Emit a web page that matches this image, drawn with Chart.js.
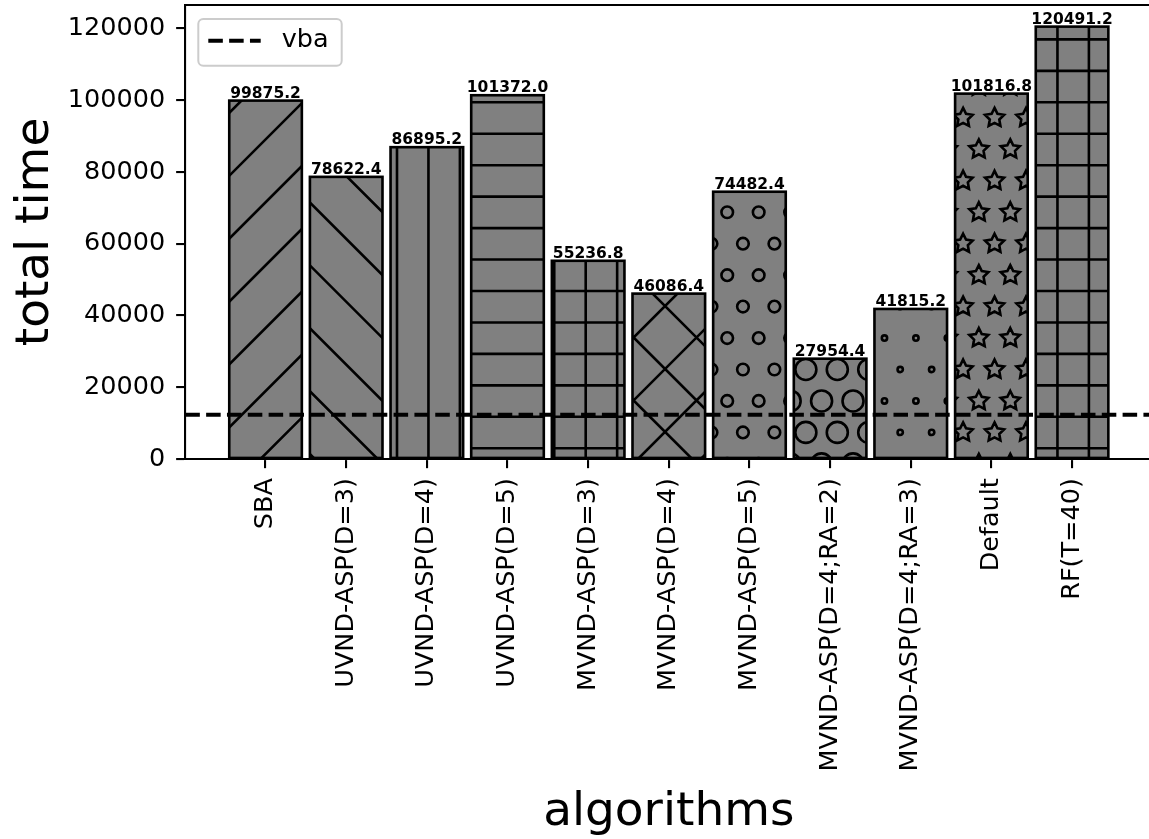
<!DOCTYPE html>
<html><head><meta charset="utf-8">
<script src="https://cdn.jsdelivr.net/npm/chart.js@4.4.1/dist/chart.umd.min.js"></script>
<style>
html,body{margin:0;padding:0;background:#fff;overflow:hidden;}
#wrap{position:absolute;left:0;top:0;width:1160px;height:839px;}
</style></head><body>
<div id="wrap"><canvas id="c"></canvas></div>
<script>
// ---- data ----
const algorithms = ['SBA','UVND-ASP(D=3)','UVND-ASP(D=4)','UVND-ASP(D=5)','MVND-ASP(D=3)','MVND-ASP(D=4)','MVND-ASP(D=5)','MVND-ASP(D=4;RA=2)','MVND-ASP(D=4;RA=3)','Default','RF(T=40)'];
const totalTime = [99875.2,78622.4,86895.2,101372.0,55236.8,46086.4,74482.4,27954.4,41815.2,101816.8,120491.2];
const hatches = ['/','\\','|','-','+','x','o','O','.','*','+'];
const vbaValue = 12350;
const yTickValues = [0,20000,40000,60000,80000,100000,120000];
const legendLabel = 'vba';

// ---- style ----
const FONT = 'DejaVu Sans';
const PT = 2.62;               // px per point
const BAR_W = 0.9;
const HATCH = {step:31.45, lineX0:397, lineY0:102.3, up0:405, down0:-107.4, shapeX0:397, shapeY0:243.7, lw:2.62};

Chart.defaults.font.family = FONT;
Chart.defaults.color = '#000';

// matplotlib-like limits
const xLo = -BAR_W/2, xHi = algorithms.length-1+BAR_W/2, xm = 0.05*(xHi-xLo);
const yMax = Math.max(...totalTime)*1.05;

function drawShapes(ctx, kind, L, T, R, B){
  const S = HATCH.step;
  const size = kind==='o'?0.2:kind==='O'?0.35:kind==='.'?0.1:1/3;
  const r = size*S - 0.5;
  const r0 = Math.floor((T - r - HATCH.shapeY0)/S) - 1;
  ctx.beginPath();
  for (let row=r0; ; row++){
    const y = HATCH.shapeY0 + row*S;
    if (y - r > B + 2) break;
    const off = (((row%2)+2)%2===0) ? 0 : 0.5;
    const k0 = Math.floor((L - r - HATCH.shapeX0)/S) - 1;
    for (let k=k0; ; k++){
      const x = HATCH.shapeX0 + (k+off)*S;
      if (x - r > R + 2) break;
      if (kind==='*'){
        for (let j=0;j<=10;j++){
          const a = -Math.PI/2 + j*Math.PI/5;
          const rr = (j%2===0)? r : r*0.5;
          const px = x + rr*Math.cos(a), py = y + rr*Math.sin(a);
          if (j===0) ctx.moveTo(px,py); else ctx.lineTo(px,py);
        }
        ctx.closePath();
      } else {
        ctx.moveTo(x+r,y); ctx.arc(x,y,r,0,Math.PI*2);
      }
    }
  }
  ctx.stroke();
}

function drawHatch(ctx, h, L, T, R, B){
  const S = HATCH.step;
  ctx.strokeStyle = '#000';
  ctx.lineWidth = HATCH.lw;
  ctx.lineJoin = 'miter';
  ctx.beginPath();
  if (h==='-'||h==='+'){
    for (let k=Math.floor((T-HATCH.lineY0)/S)-1; ; k++){
      const y = HATCH.lineY0 + k*S; if (y > B+3) break;
      ctx.moveTo(L-3,y); ctx.lineTo(R+3,y);
    }
  }
  if (h==='|'||h==='+'){
    for (let k=Math.floor((L-HATCH.lineX0)/S)-1; ; k++){
      const x = HATCH.lineX0 + k*S; if (x > R+3) break;
      ctx.moveTo(x,T-3); ctx.lineTo(x,B+3);
    }
  }
  if (h==='/'||h==='x'){
    for (let k=Math.floor((L+T-HATCH.up0)/(2*S))-1; ; k++){
      const c = HATCH.up0 + k*2*S; if (c > R+B+6) break;
      ctx.moveTo(L-5, c-(L-5)); ctx.lineTo(R+5, c-(R+5));
    }
  }
  if (h==='\\'||h==='x'){
    for (let k=Math.floor((T-R-HATCH.down0)/(2*S))-1; ; k++){
      const d = HATCH.down0 + k*2*S; if (d > B-L+6) break;
      ctx.moveTo(L-5, d+L-5); ctx.lineTo(R+5, d+R+5);
    }
  }
  ctx.stroke();
  if ('oO.*'.includes(h)) drawShapes(ctx, h, L, T, R, B);
}

const hatchPlugin = {
  id:'hatchBars',
  afterLayout(chart){
    if (chart.legend) { chart.legend.top = chart.chartArea.top; }
  },
  afterDatasetDraw(chart, args){
    if (args.index !== 0) return;
    const ctx = chart.ctx, ca = chart.chartArea;
    args.meta.data.forEach((bar,i)=>{
      const p = bar.getProps(['x','y','base','width'], true);
      const L = p.x - p.width/2, R = p.x + p.width/2;
      const T = Math.min(p.y,p.base), B = Math.max(p.y,p.base);
      ctx.save();
      ctx.beginPath(); ctx.rect(ca.left, ca.top, ca.right-ca.left, ca.bottom-ca.top); ctx.clip();
      ctx.save();
      ctx.beginPath(); ctx.rect(L,T,R-L,B-T); ctx.clip();
      drawHatch(ctx, hatches[i], L, T, R, B);
      ctx.restore();
      ctx.lineWidth = 1*PT; ctx.strokeStyle = '#000'; ctx.lineJoin='miter';
      ctx.strokeRect(L,T,R-L,B-T);
      ctx.restore();
    });
  },
  afterDatasetsDraw(chart){
    const ctx = chart.ctx;
    const meta = chart.getDatasetMeta(0);
    ctx.save();
    ctx.font = 'bold 15.5px "'+FONT+'"';
    ctx.fillStyle = '#000';
    ctx.textAlign = 'center';
    ctx.textBaseline = 'alphabetic';
    meta.data.forEach((bar,i)=>{
      ctx.fillText(totalTime[i].toFixed(1), bar.x, bar.y - 3);
    });
    ctx.restore();
  },
  afterDraw(chart){
    const lg = chart.legend;
    if (!lg || !lg.legendHitBoxes || !lg.legendHitBoxes.length) return;
    const hb = lg.legendHitBoxes[0];
    const ctx = chart.ctx;
    const x0 = hb.left - 10, y0 = hb.top - 9, x1 = x0 + 143.4, y1 = y0 + 46.7, rad = 5;
    ctx.save();
    ctx.strokeStyle = '#cccccc'; ctx.lineWidth = 2;
    ctx.beginPath();
    ctx.moveTo(x0+rad,y0); ctx.lineTo(x1-rad,y0); ctx.arcTo(x1,y0,x1,y0+rad,rad);
    ctx.lineTo(x1,y1-rad); ctx.arcTo(x1,y1,x1-rad,y1,rad);
    ctx.lineTo(x0+rad,y1); ctx.arcTo(x0,y1,x0,y1-rad,rad);
    ctx.lineTo(x0,y0+rad); ctx.arcTo(x0,y0,x0+rad,y0,rad);
    ctx.closePath(); ctx.stroke();
    ctx.restore();
  }
};

const dashPat = [3.7*1.5*PT, 1.6*1.5*PT];
const tickFont = {family:FONT, size:25.5};

new Chart(document.getElementById('c'), {
  type:'bar',
  data:{
    datasets:[
      {
        label:'total time',
        data: totalTime.map((v,i)=>({x:i, y:v})),
        backgroundColor:'#808080',
        borderWidth:0,
        barPercentage:BAR_W,
        categoryPercentage:1.0,
        grouped:false,
        xAxisID:'x', yAxisID:'y',
        order:1
      },
      {
        type:'line',
        label:legendLabel,
        data:[{x:0,y:vbaValue},{x:1,y:vbaValue}],
        borderColor:'#000',
        borderWidth:1.5*PT,
        borderDash:dashPat,
        pointRadius:0,
        fill:false,
        xAxisID:'xTop', yAxisID:'y',
        order:0
      }
    ]
  },
  options:{
    responsive:true,
    maintainAspectRatio:false,
    animation:false,
    devicePixelRatio:1,
    layout:{padding:{left:0, top:5, right:7.7, bottom:0}},
    plugins:{
      tooltip:{enabled:false},
      legend:{
        position:'chartArea',
        align:'start',
        labels:{
          font:{family:FONT, size:25.5},
          color:'#000',
          padding:23,
          boxWidth:60.65,
          boxHeight:0,
          generateLabels(chart){
            const items = Chart.defaults.plugins.legend.labels.generateLabels(chart);
            return items.filter(it=>it.datasetIndex===1).map(it=>Object.assign(it,{
              fillStyle:'rgba(0,0,0,0)', strokeStyle:'#000', lineWidth:1.5*PT,
              lineDash:[dashPat[0],dashPat[1],dashPat[0],dashPat[1],52.4-2*(dashPat[0]+dashPat[1]),400]
            }));
          }
        }
      }
    },
    scales:{
      x:{
        type:'linear', position:'bottom',
        min:xLo-xm, max:xHi+xm, bounds:'data',
        offset:false,
        afterBuildTicks(s){ s.ticks = algorithms.map((_,i)=>({value:i})); },
        afterFit(s){ s.height = 380; s.paddingLeft = 0; s.paddingRight = 0; },
        ticks:{
          autoSkip:false, minRotation:90, maxRotation:90, padding:10,
          font:tickFont, color:'#000',
          callback:(v)=>algorithms[v]
        },
        grid:{offset:false, drawOnChartArea:false, drawTicks:true, tickLength:3.5*PT, color:'#000', lineWidth:0.8*PT},
        border:{display:true, color:'#000', width:0.8*PT},
        title:{display:true, text:'algorithms', font:{family:FONT, size:47, lineHeight:1.1}, color:'#000', padding:{top:0,bottom:0}}
      },
      xTop:{
        type:'linear', position:'top', min:0, max:1, offset:false,
        ticks:{display:false},
        grid:{offset:false, drawOnChartArea:false, drawTicks:false},
        border:{display:true, color:'#000', width:0.8*PT},
        afterFit(s){ s.height = 0; s.paddingLeft = 0; s.paddingRight = 0; }
      },
      y:{
        type:'linear', position:'left',
        min:0, max:yMax, bounds:'data',
        afterBuildTicks(s){ s.ticks = yTickValues.map(v=>({value:v})); },
        afterFit(s){ s.width = 185.3; s.paddingTop = 0; s.paddingBottom = 0; },
        ticks:{font:tickFont, color:'#000', padding:11, callback:(v)=>String(v)},
        grid:{drawOnChartArea:false, drawTicks:true, tickLength:3.5*PT, color:'#000', lineWidth:0.8*PT},
        border:{display:true, color:'#000', width:0.8*PT},
        title:{display:true, text:'total time', font:{family:FONT, size:47, lineHeight:1.1}, color:'#000', padding:{top:10,bottom:0}}
      }
    }
  },
  plugins:[hatchPlugin]
});
</script>
</body></html>
